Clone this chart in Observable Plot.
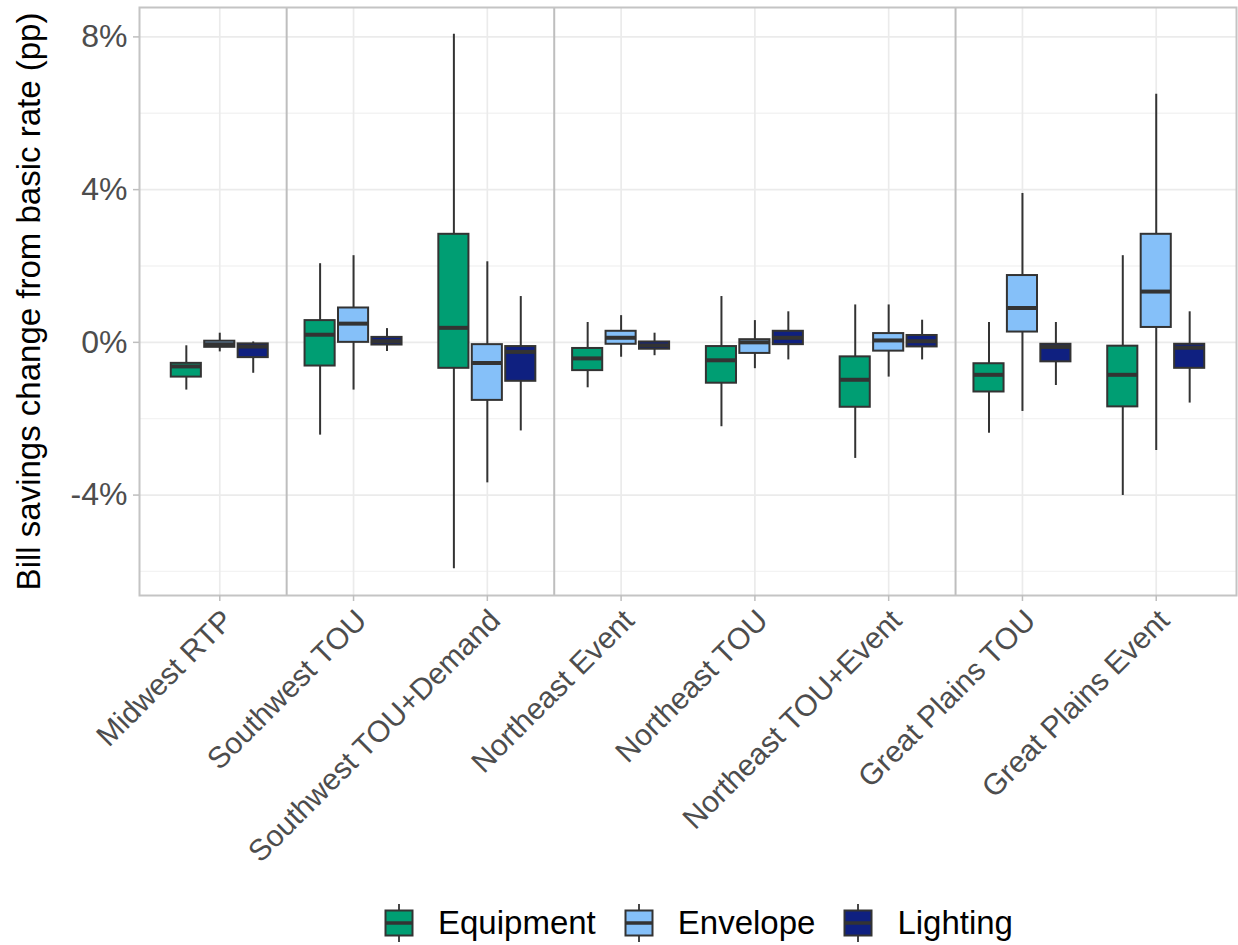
<!DOCTYPE html>
<html>
<head>
<meta charset="utf-8">
<script src="https://cdn.jsdelivr.net/npm/d3@7"></script>
<script src="https://cdn.jsdelivr.net/npm/@observablehq/plot@0.6"></script>
<style>
  html, body { margin: 0; padding: 0; background: #fff; overflow: hidden; }
  body { font-family: "Liberation Sans", Arial, sans-serif; width: 1238px; }
  #chart svg { display: block; }
  #legend { display: flex; justify-content: flex-start; align-items: flex-start; height: 65px; box-sizing: border-box; padding-top: 24px; padding-left: 384px; font-size: 33px; color: #000; }
  #legend .item { display: flex; align-items: center; margin-right: 28px; height: 38px; }
  #legend svg { margin-right: 24px; display: block; }
</style>
</head>
<body>
<div id="chart"></div>
<div id="legend"></div>
<script>
// Categories (x axis) and the region each belongs to
const categories = ["Midwest RTP", "Southwest TOU", "Southwest TOU+Demand", "Northeast Event",
  "Northeast TOU", "Northeast TOU+Event", "Great Plains TOU", "Great Plains Event"];
const regions = ["Midwest", "Southwest", "Southwest", "Northeast", "Northeast", "Northeast",
  "Great Plains", "Great Plains"];
const groups = ["Equipment", "Envelope", "Lighting"];
const colors = ["#009E73", "#85C0F9", "#0F2080"];

// [lower whisker, Q1, median, Q3, upper whisker], percentage points
const equipment = [
  [-1.25, -0.91, -0.63, -0.55, -0.09],
  [-2.43, -0.62, 0.20, 0.57, 2.06],
  [-5.93, -0.68, 0.38, 2.83, 8.07],
  [-1.19, -0.74, -0.42, -0.16, 0.52],
  [-2.21, -1.07, -0.47, -0.11, 1.20],
  [-3.04, -1.70, -0.98, -0.38, 0.98],
  [-2.38, -1.30, -0.85, -0.56, 0.52],
  [-4.01, -1.69, -0.85, -0.10, 2.27]
];
const envelope = [
  [-0.25, -0.13, -0.05, 0.03, 0.24],
  [-1.25, 0.00, 0.49, 0.90, 2.27],
  [-3.68, -1.52, -0.54, -0.06, 2.11],
  [-0.39, -0.05, 0.12, 0.29, 0.70],
  [-0.69, -0.29, 0.00, 0.07, 0.57],
  [-0.91, -0.23, 0.05, 0.23, 0.98],
  [-1.81, 0.27, 0.90, 1.75, 3.90],
  [-2.83, 0.39, 1.33, 2.83, 6.50]
];
const lighting = [
  [-0.81, -0.40, -0.11, -0.04, 0.01],
  [-0.24, -0.07, 0.03, 0.13, 0.36],
  [-2.32, -1.02, -0.25, -0.11, 1.20],
  [-0.35, -0.18, -0.08, 0.01, 0.24],
  [-0.46, -0.06, 0.12, 0.29, 0.80],
  [-0.46, -0.12, 0.03, 0.18, 0.58],
  [-1.13, -0.51, -0.12, -0.05, 0.52],
  [-1.59, -0.68, -0.14, -0.05, 0.80]
];
const yTicks = [-4, 0, 4, 8];
const yMinorTicks = [-6, -2, 2, 6];
const yTitle = "Bill savings change from basic rate (pp)";

// Build table
const series = [equipment, envelope, lighting];
const dodge = 0.25, half = 0.1125;
const rows = [];
groups.forEach((g, gi) => series[gi].forEach((s, ci) => rows.push({
  category: categories[ci], group: g, pos: ci + 1 + (gi - 1) * dodge,
  lo: s[0], q1: s[1], med: s[2], q3: s[3], hi: s[4]
})));
const xTicks = categories.map((_, i) => i + 1);
const breaks = regions.map((r, i) => (i > 0 && r !== regions[i - 1]) ? i + 0.5 : null).filter(v => v !== null);

const allVals = rows.flatMap(d => [d.lo, d.hi]);
const ymin = d3.min(allVals), ymax = d3.max(allVals);
const pad = (ymax - ymin) * 0.05;

const chart = Plot.plot({
  width: 1238,
  height: 880,
  marginLeft: 139,
  marginRight: 2,
  marginTop: 7,
  marginBottom: 285,
  style: { fontFamily: "'Liberation Sans', Arial, sans-serif", color: "#4D4D4D", background: "#fff" },
  x: { domain: [0.4, 8.6] },
  y: { domain: [ymin - pad, ymax + pad] },
  color: { domain: groups, range: colors },
  marks: [
    Plot.ruleY(yMinorTicks, { stroke: "#F3F3F3", strokeWidth: 1.3 }),
    Plot.ruleY(yTicks, { stroke: "#EBEBEB", strokeWidth: 1.7 }),
    Plot.ruleX(xTicks, { stroke: "#EBEBEB", strokeWidth: 1.7 }),
    Plot.ruleX(breaks, { stroke: "#BEBEBE", strokeWidth: 2 }),
    Plot.ruleX(rows, { x: "pos", y1: "lo", y2: "hi", stroke: "#333333", strokeWidth: 2 }),
    Plot.rect(rows, { x1: d => d.pos - half, x2: d => d.pos + half, y1: "q1", y2: "q3", fill: "group", stroke: "#333333", strokeWidth: 2 }),
    Plot.ruleY(rows, { y: "med", x1: d => d.pos - half, x2: d => d.pos + half, stroke: "#333333", strokeWidth: 4 }),
    Plot.frame({ stroke: "#C4C4C4", strokeWidth: 2 }),
    Plot.axisY({ ticks: yTicks, tickFormat: d => `${d}%`, tickSize: 6, tickPadding: 6, fontSize: 32, stroke: "#BEBEBE", strokeWidth: 1.5, fill: "#4D4D4D", label: null }),
    Plot.axisX({ ticks: xTicks, tickFormat: () => "", tickSize: 6, stroke: "#BEBEBE", strokeWidth: 1.5, label: null }),
    Plot.axisX({ ticks: xTicks, tickFormat: d => categories[d - 1], tickRotate: -45, tickSize: 0, tickPadding: 20, dx: 8, fontSize: 30, fill: "#4D4D4D", label: null }),
    Plot.text([yTitle], { text: d => d, frameAnchor: "left", dx: -110, rotate: -90, fontSize: 33, fill: "#000", textAnchor: "middle", lineAnchor: "middle" })
  ]
});
document.getElementById("chart").appendChild(chart);

// Legend with boxplot key glyphs
const legend = document.getElementById("legend");
groups.forEach((g, i) => {
  const item = document.createElement("div");
  item.className = "item";
  item.innerHTML = `<svg width="30" height="38" viewBox="0 0 30 38">
    <line x1="15" y1="0" x2="15" y2="38" stroke="#333" stroke-width="1.8"/>
    <rect x="1.5" y="6.5" width="27" height="25" fill="${colors[i]}" stroke="#333" stroke-width="2"/>
    <line x1="1.5" y1="19" x2="28.5" y2="19" stroke="#333" stroke-width="3.5"/>
  </svg><span>${g}</span>`;
  legend.appendChild(item);
});
</script>
</body>
</html>
